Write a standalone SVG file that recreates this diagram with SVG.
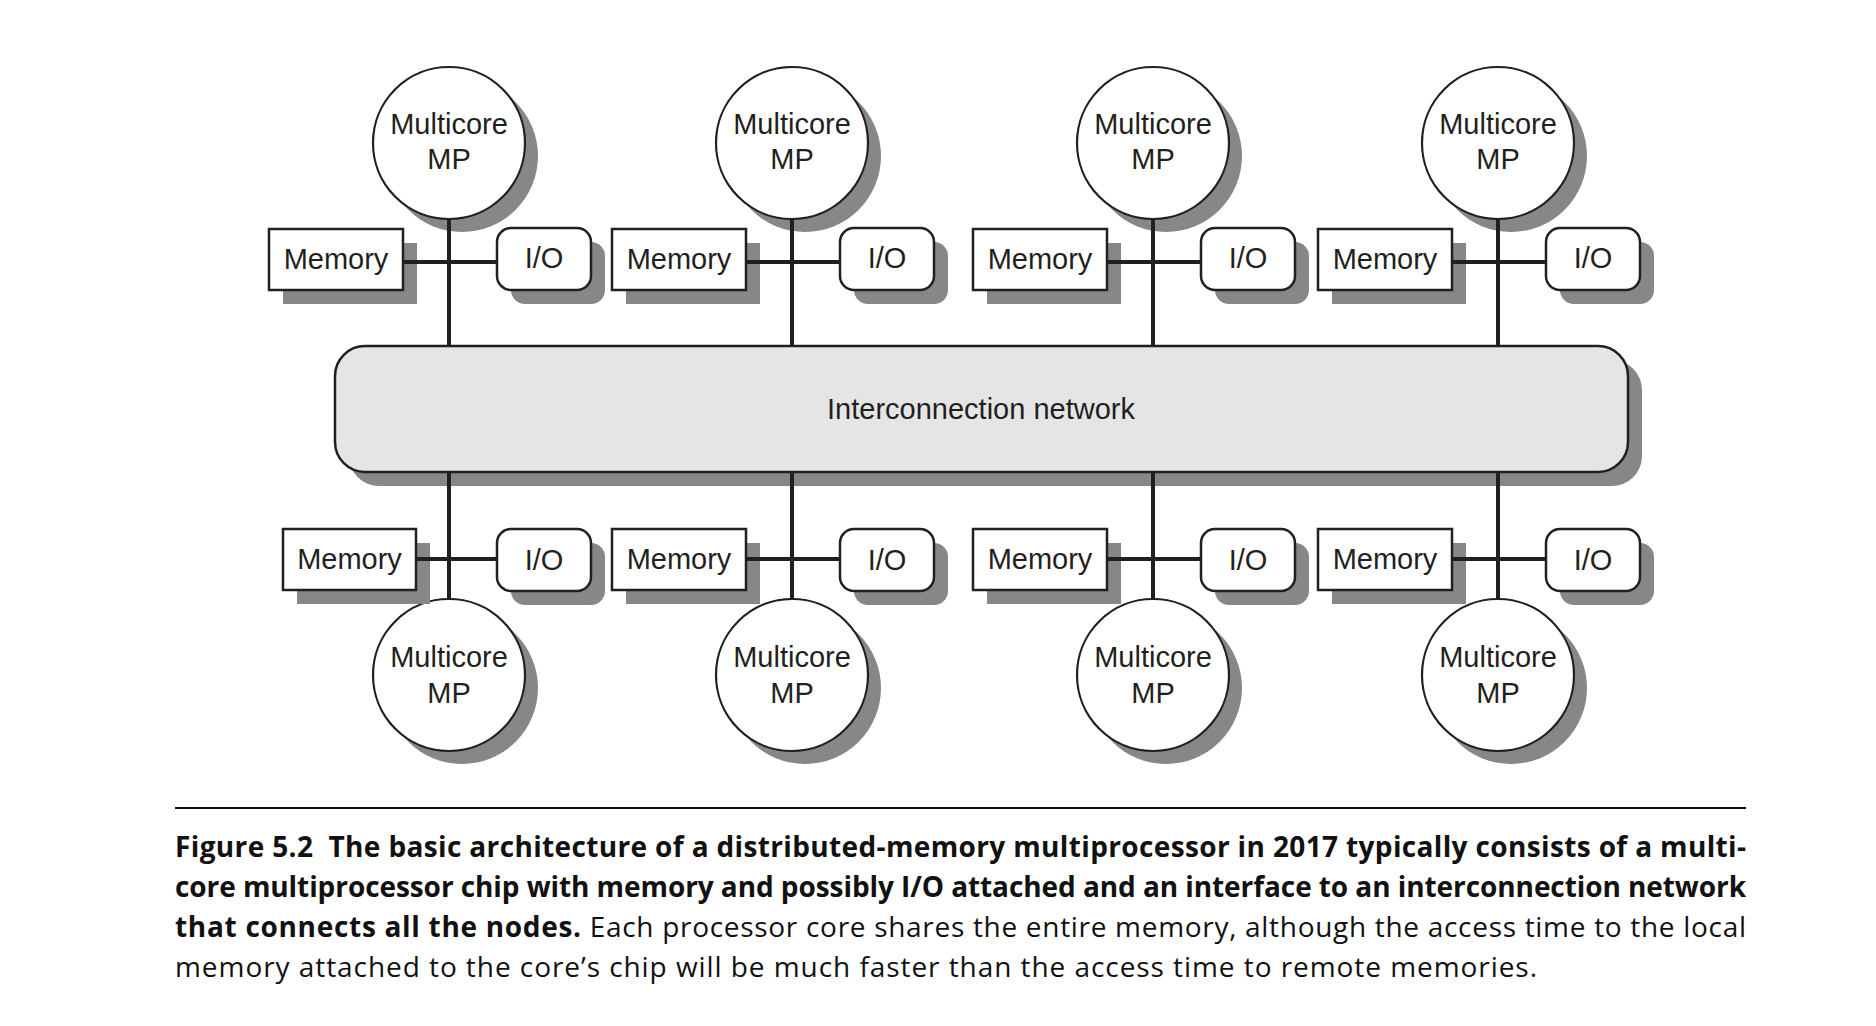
<svg xmlns="http://www.w3.org/2000/svg" width="1876" height="1026" viewBox="0 0 1876 1026">
<style>
.sh{fill:#878787}
.bx{fill:#fff;stroke:#231f20;stroke-width:2.5}
.cir{fill:#fff;stroke:#231f20;stroke-width:2.2}
.net{fill:#e5e5e5;stroke:#231f20;stroke-width:2.5}
.lbl{font-family:"Liberation Sans",Arial,sans-serif;font-size:29px;fill:#231f20;text-anchor:middle}
.wire{stroke:#231f20;stroke-width:4;fill:none}
.cap{font-family:"Open Sans","Noto Sans",sans-serif;font-size:28px;fill:#111}
.b{font-weight:bold}
</style>
<rect width="1876" height="1026" fill="#fff"/>

<!-- Network -->
<g id="network">
<rect class="sh" x="349" y="360" width="1293" height="126" rx="30"/>
<rect class="net" x="335" y="346" width="1293" height="126" rx="30"/>
<text class="lbl" x="981" y="419">Interconnection network</text>
</g>

<!-- Top row -->
<g id="mp-top-1"><circle class="sh" cx="462" cy="156" r="76"/><circle class="cir" cx="449" cy="143" r="76"/><text class="lbl" x="449" y="134">Multicore</text><text class="lbl" x="449" y="169">MP</text></g>
<g id="mem-top-1"><rect class="sh" x="283" y="243" width="134" height="61"/><rect class="bx" x="269" y="229" width="134" height="61"/><text class="lbl" x="336" y="269">Memory</text></g>
<g id="io-top-1"><rect class="sh" x="511" y="242" width="94" height="62" rx="14"/><rect class="bx" x="497" y="228" width="94" height="62" rx="14"/><text class="lbl" x="544" y="268">I/O</text></g>

<g id="mp-top-2"><circle class="sh" cx="805" cy="156" r="76"/><circle class="cir" cx="792" cy="143" r="76"/><text class="lbl" x="792" y="134">Multicore</text><text class="lbl" x="792" y="169">MP</text></g>
<g id="mem-top-2"><rect class="sh" x="626" y="243" width="134" height="61"/><rect class="bx" x="612" y="229" width="134" height="61"/><text class="lbl" x="679" y="269">Memory</text></g>
<g id="io-top-2"><rect class="sh" x="854" y="242" width="94" height="62" rx="14"/><rect class="bx" x="840" y="228" width="94" height="62" rx="14"/><text class="lbl" x="887" y="268">I/O</text></g>

<g id="mp-top-3"><circle class="sh" cx="1166" cy="156" r="76"/><circle class="cir" cx="1153" cy="143" r="76"/><text class="lbl" x="1153" y="134">Multicore</text><text class="lbl" x="1153" y="169">MP</text></g>
<g id="mem-top-3"><rect class="sh" x="987" y="243" width="134" height="61"/><rect class="bx" x="973" y="229" width="134" height="61"/><text class="lbl" x="1040" y="269">Memory</text></g>
<g id="io-top-3"><rect class="sh" x="1215" y="242" width="94" height="62" rx="14"/><rect class="bx" x="1201" y="228" width="94" height="62" rx="14"/><text class="lbl" x="1248" y="268">I/O</text></g>

<g id="mp-top-4"><circle class="sh" cx="1511" cy="156" r="76"/><circle class="cir" cx="1498" cy="143" r="76"/><text class="lbl" x="1498" y="134">Multicore</text><text class="lbl" x="1498" y="169">MP</text></g>
<g id="mem-top-4"><rect class="sh" x="1332" y="243" width="134" height="61"/><rect class="bx" x="1318" y="229" width="134" height="61"/><text class="lbl" x="1385" y="269">Memory</text></g>
<g id="io-top-4"><rect class="sh" x="1560" y="242" width="94" height="62" rx="14"/><rect class="bx" x="1546" y="228" width="94" height="62" rx="14"/><text class="lbl" x="1593" y="268">I/O</text></g>

<!-- Bottom row -->
<g id="mp-bot-1"><circle class="sh" cx="462" cy="688" r="76"/><circle class="cir" cx="449" cy="675" r="76"/><text class="lbl" x="449" y="667">Multicore</text><text class="lbl" x="449" y="703">MP</text></g>
<g id="mem-bot-1"><rect class="sh" x="297" y="543" width="133" height="61"/><rect class="bx" x="283" y="529" width="133" height="61"/><text class="lbl" x="349.5" y="569">Memory</text></g>
<g id="io-bot-1"><rect class="sh" x="511" y="543" width="94" height="62" rx="14"/><rect class="bx" x="497" y="529" width="94" height="62" rx="14"/><text class="lbl" x="544" y="570">I/O</text></g>

<g id="mp-bot-2"><circle class="sh" cx="805" cy="688" r="76"/><circle class="cir" cx="792" cy="675" r="76"/><text class="lbl" x="792" y="667">Multicore</text><text class="lbl" x="792" y="703">MP</text></g>
<g id="mem-bot-2"><rect class="sh" x="626" y="543" width="134" height="61"/><rect class="bx" x="612" y="529" width="134" height="61"/><text class="lbl" x="679" y="569">Memory</text></g>
<g id="io-bot-2"><rect class="sh" x="854" y="543" width="94" height="62" rx="14"/><rect class="bx" x="840" y="529" width="94" height="62" rx="14"/><text class="lbl" x="887" y="570">I/O</text></g>

<g id="mp-bot-3"><circle class="sh" cx="1166" cy="688" r="76"/><circle class="cir" cx="1153" cy="675" r="76"/><text class="lbl" x="1153" y="667">Multicore</text><text class="lbl" x="1153" y="703">MP</text></g>
<g id="mem-bot-3"><rect class="sh" x="987" y="543" width="134" height="61"/><rect class="bx" x="973" y="529" width="134" height="61"/><text class="lbl" x="1040" y="569">Memory</text></g>
<g id="io-bot-3"><rect class="sh" x="1215" y="543" width="94" height="62" rx="14"/><rect class="bx" x="1201" y="529" width="94" height="62" rx="14"/><text class="lbl" x="1248" y="570">I/O</text></g>

<g id="mp-bot-4"><circle class="sh" cx="1511" cy="688" r="76"/><circle class="cir" cx="1498" cy="675" r="76"/><text class="lbl" x="1498" y="667">Multicore</text><text class="lbl" x="1498" y="703">MP</text></g>
<g id="mem-bot-4"><rect class="sh" x="1332" y="543" width="134" height="61"/><rect class="bx" x="1318" y="529" width="134" height="61"/><text class="lbl" x="1385" y="569">Memory</text></g>
<g id="io-bot-4"><rect class="sh" x="1560" y="543" width="94" height="62" rx="14"/><rect class="bx" x="1546" y="529" width="94" height="62" rx="14"/><text class="lbl" x="1593" y="570">I/O</text></g>

<!-- Connectors -->
<g id="connectors" class="wire">
<path d="M449 219V345M403 262H497"/>
<path d="M792 219V345M746 262H840"/>
<path d="M1153 219V345M1107 262H1201"/>
<path d="M1498 219V345M1452 262H1546"/>
<path d="M449 473V599M416 559H497"/>
<path d="M792 473V599M746 559H840"/>
<path d="M1153 473V599M1107 559H1201"/>
<path d="M1498 473V599M1452 559H1546"/>
</g>

<!-- Caption -->
<g id="caption">
<line x1="175" y1="808" x2="1746" y2="808" stroke="#111" stroke-width="2"/>
<text class="cap b" x="175" y="857" textLength="1571" lengthAdjust="spacing">Figure 5.2 &#160;The basic architecture of a distributed-memory multiprocessor in 2017 typically consists of a multi-</text>
<text class="cap b" x="175" y="897" textLength="1571" lengthAdjust="spacing">core multiprocessor chip with memory and possibly I/O attached and an interface to an interconnection network</text>
<text class="cap" x="175" y="937" textLength="1571" lengthAdjust="spacing"><tspan class="b">that connects all the nodes.</tspan> Each processor core shares the entire memory, although the access time to the local</text>
<text class="cap" x="175" y="977" textLength="1362" lengthAdjust="spacing">memory attached to the core’s chip will be much faster than the access time to remote memories.</text>
</g>
</svg>
